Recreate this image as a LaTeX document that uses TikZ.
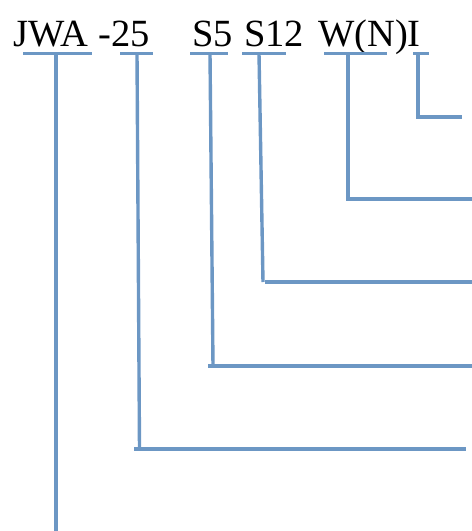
\documentclass[tikz,border=0pt]{standalone}
\usepackage{fontspec}
\setmainfont{Liberation Serif}
\definecolor{leader}{HTML}{6C97C4}
\begin{document}
\begin{tikzpicture}[x=1pt,y=-1pt,
  code/.style={anchor=base west,inner sep=0pt,font=\fontsize{38.5}{40}\selectfont},
  lead/.style={draw=leader,line width=3.4pt}]
\useasboundingbox (0,0) rectangle (472,531);
% codes
\node[code] (t1) at (13,46.7) {JWA};
\node[code] (t2) at (98.5,46.7) {-25};
\node[code] (t3) at (192,46.7) {S5};
\node[code] (t4) at (244,46.7) {S12};
\node[code] (t5) at (318,46.7) {W(N)I};
% JWA
\coordinate (a1) at (23,53.3); \coordinate (a2) at (92,53.3);
\coordinate (a3) at (56,53.3); \coordinate (a4) at (56,532.2);
\coordinate (a5) at (462,532.2);
\draw[lead] (a1) -- (a2);
\draw[lead] (a3) -- (a4);
\draw[lead,draw opacity=0.4] (a4) -- (a5);
% -25
\coordinate (b1) at (120,53.3); \coordinate (b2) at (153,53.3);
\coordinate (b3) at (137,53.3); \coordinate (b4) at (139.5,449);
\coordinate (b5) at (134,449); \coordinate (b6) at (466,449);
\draw[lead] (b1) -- (b2);
\draw[lead] (b3) -- (b4);
\draw[lead] (b5) -- (b6);
% S5
\coordinate (c1) at (190,53.3); \coordinate (c2) at (228,53.3);
\coordinate (c3) at (210,53.3); \coordinate (c4) at (213,366);
\coordinate (c5) at (208,366); \coordinate (c6) at (472,366);
\draw[lead] (c1) -- (c2);
\draw[lead] (c3) -- (c4);
\draw[lead] (c5) -- (c6);
% S12
\coordinate (d1) at (242,53.3); \coordinate (d2) at (286,53.3);
\coordinate (d3) at (259,53.3); \coordinate (d4) at (263,282);
\coordinate (d5) at (265,282); \coordinate (d6) at (472,282);
\draw[lead] (d1) -- (d2);
\draw[lead] (d3) -- (d4);
\draw[lead] (d5) -- (d6);
% W(N)
\coordinate (e1) at (324,53.3); \coordinate (e2) at (387,53.3);
\coordinate (e3) at (348,53.3); \coordinate (e4) at (348,199);
\coordinate (e5) at (472,199);
\draw[lead] (e1) -- (e2);
\draw[lead] (e3) -- (e4) -- (e5);
% I
\coordinate (f1) at (413,53.3); \coordinate (f2) at (429,53.3);
\coordinate (f3) at (418,53.3); \coordinate (f4) at (418,117);
\coordinate (f5) at (462,117);
\draw[lead] (f1) -- (f2);
\draw[lead] (f3) -- (f4) -- (f5);
\end{tikzpicture}
\end{document}
